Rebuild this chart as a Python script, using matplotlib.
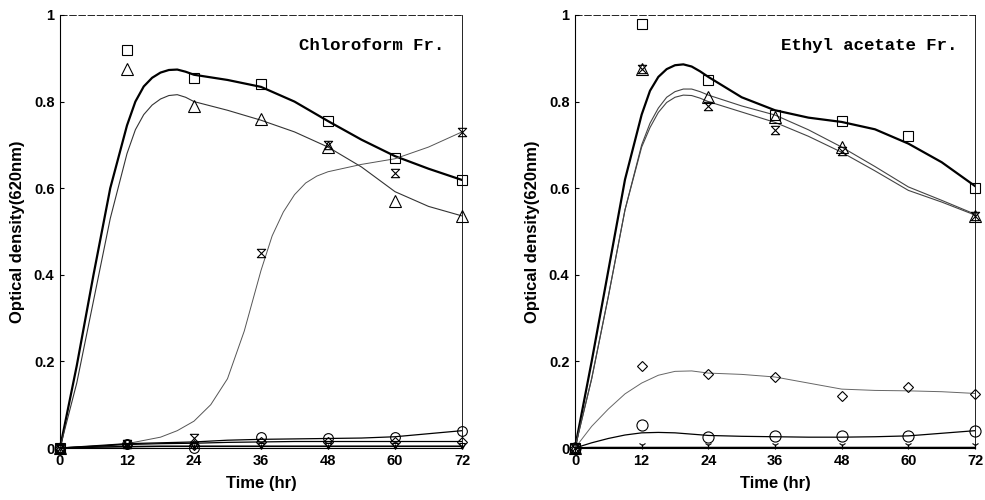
import matplotlib
matplotlib.use("Agg")
import matplotlib.pyplot as plt
from matplotlib.path import Path

# ---------------- data ----------------
times = [0, 12, 24, 36, 48, 60, 72]
x_ticks = [0, 12, 24, 36, 48, 60, 72]
y_ticks = [0, 0.2, 0.4, 0.6, 0.8, 1.0]
y_tick_labels = ["0", "0.2", "0.4", "0.6", "0.8", "1"]

# Chloroform fraction - measured points
chl_square = [0, 0.92, 0.855, 0.84, 0.755, 0.67, 0.62]
chl_triangle = [0, 0.875, 0.79, 0.76, 0.695, 0.57, 0.535]
chl_hourglass = [0, 0.01, 0.022, 0.45, 0.70, 0.635, 0.73]
chl_circle = [0, 0.01, 0.0, 0.025, 0.024, 0.025, 0.04]
chl_diamond = [0, 0.01, 0.008, 0.015, 0.015, 0.015, 0.015]
chl_vtri = [0, 0.005, 0.004, 0.005, 0.004, 0.005, 0.005]

# Chloroform fraction - fitted curves
chl_fit_t = [0, 3, 6, 9, 12, 13.5, 15, 16.5, 18, 19.5, 21, 22.5, 24, 30, 36, 42, 48, 54, 60, 66, 72]
chl_fit_square = [0, 0.19, 0.40, 0.60, 0.745, 0.80, 0.835, 0.855, 0.867, 0.873, 0.874, 0.869, 0.862, 0.85, 0.834, 0.80, 0.755, 0.712, 0.674, 0.645, 0.619]
chl_fit_triangle = [0, 0.15, 0.34, 0.53, 0.68, 0.735, 0.77, 0.792, 0.806, 0.814, 0.816, 0.81, 0.80, 0.78, 0.757, 0.73, 0.695, 0.649, 0.592, 0.558, 0.536]
chl_fit_hour_t = [0, 6, 12, 18, 21, 24, 27, 30, 33, 36, 38, 40, 42, 44, 46, 48, 54, 60, 66, 72]
chl_fit_hourglass = [0, 0.003, 0.01, 0.025, 0.04, 0.062, 0.10, 0.16, 0.27, 0.41, 0.49, 0.545, 0.585, 0.612, 0.628, 0.638, 0.655, 0.668, 0.695, 0.73]
chl_fit_low_t = [0, 6, 12, 18, 24, 30, 36, 42, 48, 54, 60, 66, 72]
chl_fit_circle = [0, 0.005, 0.01, 0.012, 0.014, 0.018, 0.02, 0.021, 0.022, 0.023, 0.026, 0.033, 0.04]
chl_fit_diamond = [0, 0.004, 0.008, 0.01, 0.011, 0.013, 0.014, 0.015, 0.015, 0.015, 0.015, 0.015, 0.015]
chl_fit_vtri = [0, 0.002, 0.003, 0.004, 0.004, 0.004, 0.004, 0.004, 0.004, 0.004, 0.004, 0.004, 0.004]

# Ethyl acetate fraction - measured points
eth_square = [0, 0.98, 0.85, 0.77, 0.755, 0.72, 0.60]
eth_triangle = [0, 0.875, 0.81, 0.765, 0.695, None, 0.535]
eth_hourglass = [0, 0.875, 0.79, 0.735, 0.685, None, 0.535]
eth_diamond = [0, 0.19, 0.17, 0.165, 0.12, 0.14, 0.125]
eth_circle = [0, 0.052, 0.026, 0.027, 0.027, 0.027, 0.04]
eth_vtri = [0, 0.008, 0.008, 0.008, 0.008, 0.008, 0.008]

# Ethyl acetate fraction - fitted curves
eth_fit_t = [0, 3, 6, 9, 12, 13.5, 15, 16.5, 18, 19.5, 21, 22.5, 24, 30, 36, 42, 48, 54, 60, 66, 72]
eth_fit_square = [0, 0.20, 0.41, 0.62, 0.77, 0.825, 0.857, 0.875, 0.884, 0.886, 0.881, 0.87, 0.857, 0.81, 0.78, 0.763, 0.753, 0.736, 0.703, 0.66, 0.605]
eth_fit_triangle = [0, 0.16, 0.35, 0.55, 0.70, 0.75, 0.785, 0.81, 0.823, 0.829, 0.829, 0.823, 0.815, 0.79, 0.769, 0.735, 0.695, 0.65, 0.603, 0.572, 0.54]
eth_fit_hourglass = [0, 0.16, 0.35, 0.55, 0.695, 0.74, 0.775, 0.798, 0.81, 0.815, 0.814, 0.808, 0.80, 0.776, 0.752, 0.72, 0.683, 0.64, 0.595, 0.568, 0.538]
eth_fit_low_t = [0, 3, 6, 9, 12, 15, 18, 21, 24, 30, 36, 42, 48, 54, 60, 66, 72]
eth_fit_diamond = [0, 0.05, 0.09, 0.125, 0.15, 0.168, 0.177, 0.178, 0.173, 0.17, 0.164, 0.15, 0.136, 0.133, 0.132, 0.13, 0.126]
eth_fit_circle = [0, 0.012, 0.022, 0.03, 0.035, 0.036, 0.035, 0.032, 0.029, 0.027, 0.026, 0.025, 0.025, 0.026, 0.028, 0.034, 0.04]
eth_fit_vtri = [0, 0.001, 0.001, 0.001, 0.001, 0.001, 0.001, 0.001, 0.001, 0.001, 0.001, 0.001, 0.001, 0.001, 0.001, 0.001, 0.001]

# ---------------- style ----------------
hourglass = Path([(-1, 1), (1, 1), (-1, -1), (1, -1), (-1, 1)],
                 [Path.MOVETO, Path.LINETO, Path.LINETO, Path.LINETO, Path.CLOSEPOLY])

fig = plt.figure(figsize=(9.85, 5.0), dpi=100)
ax1 = fig.add_axes([60 / 985, 52 / 500, 402 / 985, 433 / 500])
ax2 = fig.add_axes([575 / 985, 52 / 500, 400 / 985, 433 / 500])

lab_font = dict(family="Liberation Sans", weight="bold", size=12)
tick_font = dict(family="Liberation Sans", weight="bold", size=10.5)


def pts(t, v):
    xs = [a for a, b in zip(t, v) if b is not None]
    ys = [b for b in v if b is not None]
    return xs, ys


def style(ax, title):
    ax.set_xlim(0, 72)
    ax.set_ylim(0, 1.0)
    ax.set_xticks(x_ticks)
    ax.set_xticklabels([str(t) for t in x_ticks], **tick_font)
    ax.set_yticks(y_ticks)
    ax.set_yticklabels(y_tick_labels, **tick_font)
    ax.tick_params(direction="in", length=3, width=0.8, pad=4)
    for s in ax.spines.values():
        s.set_linewidth(0.8)
    ax.spines["top"].set_linestyle((0, (8, 3)))
    ax.spines["top"].set_linewidth(0.6)
    ax.spines["right"].set_linewidth(0.6)
    ax.set_xlabel("Time (hr)", labelpad=6, **lab_font)
    ax.set_ylabel("Optical density(620nm)", labelpad=6, **lab_font)
    ax.text(0.955, 0.93, title, transform=ax.transAxes, ha="right", va="center",
            family="Liberation Mono", weight="bold", size=12.5)


mk = dict(linestyle="none", markerfacecolor="none", markeredgecolor="black",
          markeredgewidth=0.8, clip_on=False, zorder=4)

# Left panel
ax1.plot(chl_fit_t, chl_fit_square, color="black", lw=1.6, zorder=3)
ax1.plot(chl_fit_t, chl_fit_triangle, color="#333333", lw=0.8, zorder=3)
ax1.plot(chl_fit_hour_t, chl_fit_hourglass, color="#555555", lw=0.7, zorder=3)
ax1.plot(chl_fit_low_t, chl_fit_circle, color="black", lw=0.9, zorder=3)
ax1.plot(chl_fit_low_t, chl_fit_diamond, color="black", lw=0.9, zorder=3)
ax1.plot(chl_fit_low_t, chl_fit_vtri, color="black", lw=1.2, zorder=3)
ax1.plot(*pts(times, chl_square), marker="s", markersize=7, **mk)
ax1.plot(*pts(times, chl_triangle), marker="^", markersize=8, **mk)
ax1.plot(*pts(times, chl_hourglass), marker=hourglass, markersize=6, **mk)
ax1.plot(*pts(times, chl_circle), marker="o", markersize=7, **mk)
ax1.plot(*pts(times, chl_diamond), marker="D", markersize=5, **mk)
ax1.plot(*pts(times, chl_vtri), marker="v", markersize=5, **mk)
style(ax1, "Chloroform Fr.")

# Right panel
ax2.plot(eth_fit_t, eth_fit_square, color="black", lw=1.6, zorder=3)
ax2.plot(eth_fit_t, eth_fit_triangle, color="#444444", lw=0.8, zorder=3)
ax2.plot(eth_fit_t, eth_fit_hourglass, color="#444444", lw=0.8, zorder=3)
ax2.plot(eth_fit_low_t, eth_fit_diamond, color="#666666", lw=0.7, zorder=3)
ax2.plot(eth_fit_low_t, eth_fit_circle, color="black", lw=0.9, zorder=3)
ax2.plot(eth_fit_low_t, eth_fit_vtri, color="black", lw=1.2, zorder=3)
ax2.plot(*pts(times, eth_square), marker="s", markersize=7, **mk)
ax2.plot(*pts(times, eth_triangle), marker="^", markersize=8, **mk)
ax2.plot(*pts(times, eth_hourglass), marker=hourglass, markersize=6, **mk)
ax2.plot(*pts(times, eth_diamond), marker="D", markersize=5, **mk)
ax2.plot(*pts(times, eth_circle), marker="o", markersize=8, **mk)
ax2.plot(*pts(times, eth_vtri), marker="1", markersize=6, **mk)
style(ax2, "Ethyl acetate Fr.")

fig.savefig("out.png", dpi=100)
